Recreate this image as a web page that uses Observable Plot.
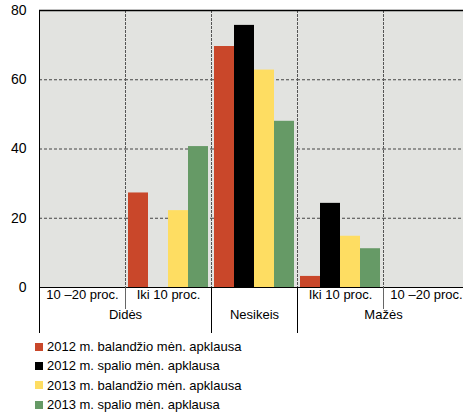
<!DOCTYPE html>
<html>
<head>
<meta charset="utf-8">
<script src="https://cdn.jsdelivr.net/npm/d3@7"></script>
<script src="https://cdn.jsdelivr.net/npm/@observablehq/plot@0.6"></script>
<style>
  html, body { margin: 0; padding: 0; background: #fff; overflow: hidden; }
  body { width: 463px; font-family: "Liberation Sans", Arial, sans-serif; }
  #legend { padding: 1px 0 0 35px; }
  .row { display: flex; align-items: center; height: 19.3px; font-size: 13px; color: #000; }
  .sw { width: 8px; height: 8px; margin-right: 4px; }
</style>
</head>
<body>
<div id="chart"></div>
<div id="legend"></div>
<script>
// Expected change groups (facets) and their labels
const groups = ["didės 10–20", "didės iki 10", "nesikeis", "mažės iki 10", "mažės 10–20"];
const subLabels = ["10 –20 proc.", "Iki 10 proc.", "", "Iki 10 proc.", "10 –20 proc."];
const mainLabels = ["Didės", "Nesikeis", "Mažės"];

// Survey rounds
const series = [
  "2012 m. balandžio mėn. apklausa",
  "2012 m. spalio mėn. apklausa",
  "2013 m. balandžio mėn. apklausa",
  "2013 m. spalio mėn. apklausa"
];
const colors = ["#c9472a", "#000000", "#fedd62", "#669a66"];

// Share of respondents (%), one value per group
const apr2012 = [0, 27.3, 69.6, 3.2, 0];
const oct2012 = [0, 0, 75.7, 24.3, 0];
const apr2013 = [0, 22.2, 62.8, 14.8, 0];
const oct2013 = [0, 40.7, 48.0, 11.2, 0];

const yTicks = [0, 20, 40, 60, 80];

const seriesValues = [apr2012, oct2012, apr2013, oct2013];
const rows = [];
series.forEach((s, si) => groups.forEach((g, gi) => rows.push({group: g, series: s, value: seriesValues[si][gi]})));

const bg = "#e2e3e0";
const plotHeight = 277;   // height of the plotting area
const rowDepth = 21;      // first label row
const tableDepth = 45;    // both label rows

// a vertical line on the left edge of one facet
const edge = (g, opts) => Plot.frame({fx: () => g, anchor: "left", ...opts});

const chart = Plot.plot({
  width: 463,
  height: 336,
  marginLeft: 38,
  marginRight: -7,
  marginTop: 10,
  marginBottom: 49,
  style: {fontFamily: "'Liberation Sans', Arial, sans-serif", fontSize: "13px", color: "#000", background: "transparent"},
  fx: {domain: groups, padding: 0, axis: null},
  x: {domain: series, paddingInner: 0, paddingOuter: 0.15, axis: null},
  y: {domain: [0, 80], ticks: yTicks, axis: null},
  color: {domain: series, range: colors},
  marks: [
    Plot.frame({fill: bg, stroke: "none"}),
    Plot.ruleY([20, 40, 60], {stroke: "#444", strokeDasharray: "3,2", strokeWidth: 1}),
    Plot.frame({anchor: "left", stroke: "#555", strokeDasharray: "2,2", strokeWidth: 1}),
    Plot.barY(rows, {fx: "group", x: "series", y: "value", fill: "series"}),
    Plot.ruleY([0], {stroke: "#000", strokeWidth: 1}),
    Plot.ruleY([80], {stroke: "#000", strokeWidth: 1.5}),
    // left border of the chart, continuing down through the label table
    edge(groups[0], {stroke: "#000", strokeWidth: 1, insetBottom: -tableDepth}),
    // separators inside the label table
    edge(groups[1], {stroke: "#666", insetTop: plotHeight, insetBottom: -rowDepth}),
    edge(groups[4], {stroke: "#666", insetTop: plotHeight, insetBottom: -rowDepth}),
    edge(groups[2], {stroke: "#000", insetTop: plotHeight, insetBottom: -tableDepth}),
    edge(groups[3], {stroke: "#000", insetTop: plotHeight, insetBottom: -tableDepth}),
    // y axis labels
    Plot.axisY({ticks: yTicks, tickSize: 0, tickPadding: 13, fontSize: 14, anchor: "left", label: null}),
    // first label row
    Plot.text(groups, {fx: d => d, text: (d, i) => subLabels[i], frameAnchor: "bottom", dy: 11}),
    // second label row
    Plot.text([mainLabels[0]], {fx: () => groups[0], frameAnchor: "bottom-right", textAnchor: "middle", dy: 31}),
    Plot.text([mainLabels[1]], {fx: () => groups[2], frameAnchor: "bottom", dy: 31}),
    Plot.text([mainLabels[2]], {fx: () => groups[3], frameAnchor: "bottom-right", textAnchor: "middle", dy: 31})
  ]
});
document.getElementById("chart").appendChild(chart);

// legend: one swatch per survey round
const legend = d3.select("#legend");
series.forEach((s, i) => {
  const row = legend.append("div").attr("class", "row");
  row.append("div").attr("class", "sw").style("background", colors[i]);
  row.append("span").text(s);
});
</script>
</body>
</html>
